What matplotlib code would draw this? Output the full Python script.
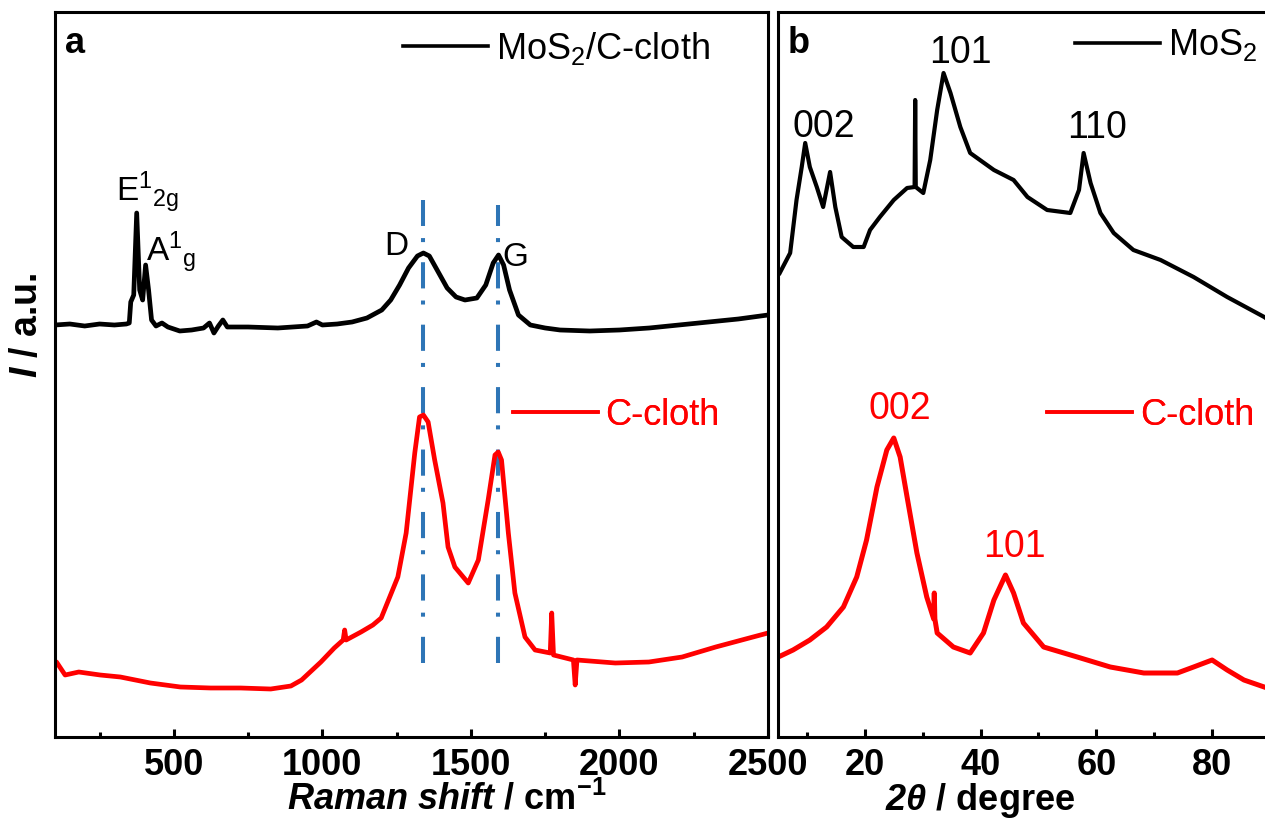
import numpy as np
import matplotlib.pyplot as plt
from matplotlib.lines import Line2D

plt.rcParams['font.family'] = ['Liberation Sans', 'DejaVu Sans']
plt.rcParams['mathtext.fontset'] = 'custom'
plt.rcParams['mathtext.rm'] = 'Liberation Sans'
plt.rcParams['mathtext.it'] = 'Liberation Sans:italic'
plt.rcParams['mathtext.bf'] = 'Liberation Sans:bold'
plt.rcParams['mathtext.bfit'] = 'Liberation Sans:italic:bold'
plt.rcParams['mathtext.default'] = 'regular'

# ---- panel a: Raman (intensity in a.u., stacked) ----
raman_x_mos2 = [100, 150, 200, 250, 300, 340, 350, 355, 365, 375, 385, 395, 405, 415, 425,
                440, 460, 480, 520, 560, 600, 620, 635, 650, 665, 680, 750, 850, 950, 980,
                1000, 1050, 1100, 1150, 1200, 1230, 1260, 1290, 1320, 1340, 1360, 1390, 1420,
                1450, 1480, 1520, 1550, 1575, 1593, 1610, 1630, 1660, 1700, 1750, 1800, 1900,
                2000, 2100, 2200, 2300, 2400, 2500]
raman_y_mos2 = [412, 413, 411, 413, 412, 413, 414, 435, 442, 524, 447, 437, 472, 447, 417,
                411, 414, 410, 406, 407, 409, 414, 404, 411, 417, 410, 410, 409, 411, 415,
                412, 413, 415, 419, 427, 437, 452, 469, 481, 484, 481, 465, 449,
                440, 437, 439, 452, 474, 482, 472, 447, 422, 412, 409, 407, 406,
                407, 409, 412, 415, 418, 422]

raman_x_cc = [100, 105, 134, 180, 252, 320, 421, 522, 624, 725, 826, 894, 930, 995, 1040,
              1070, 1075, 1080, 1130, 1170, 1198, 1254, 1282, 1311, 1327, 1340, 1356, 1378,
              1406, 1423, 1446, 1491, 1525, 1558, 1581, 1592, 1603, 1626, 1648, 1682, 1716,
              1767, 1772, 1778, 1845, 1851, 1857, 1986, 2099, 2211, 2324, 2437, 2500]
raman_y_cc = [72, 75, 62, 65, 62, 60, 54, 50, 49, 49, 48, 51, 57, 75, 89,
              97, 107, 97, 105, 112, 119, 160, 204, 284, 320, 322, 315, 277,
              234, 190, 170, 154, 177, 237, 282, 285, 277, 204, 144, 100, 87,
              84, 124, 82, 77, 52, 77, 74, 75, 80, 90, 99, 104]

d_band = 1340
g_band = 1592

# ---- panel b: XRD ----
xrd_x_mos2 = [5.3, 7.1, 8.2, 9.1, 9.7, 10.5, 11.7, 12.8, 14.0, 14.9, 16.0, 18.0, 19.8, 20.9,
              22.6, 25.0, 27.3, 28.6, 28.7, 28.8, 30.1, 31.3, 32.5, 33.6, 34.8, 36.5, 38.2,
              42.3, 45.7, 48.1, 51.5, 55.5, 57.0, 57.8, 59.0, 60.7, 63.0, 66.4, 71.1, 76.8,
              82.6, 89.0, 90.0]
xrd_y_mos2 = [464, 484, 537, 570, 594, 570, 550, 530, 565, 530, 500, 490, 490, 507,
              520, 537, 549, 550, 637, 550, 544, 577, 627, 664, 644, 610, 584,
              567, 557, 540, 527, 524, 547, 584, 554, 524, 504, 487, 477, 460,
              440, 420, 416]

xrd_x_cc = [5.05, 7.6, 10.5, 13.4, 16.3, 18.6, 20.3, 22.1, 23.8, 25.0, 26.1, 27.3, 29.0,
            30.7, 31.9, 32.0, 32.1, 32.5, 35.3, 38.2, 40.5, 42.3, 44.3, 45.7, 47.4, 50.9,
            56.7, 62.4, 68.2, 74.0, 76.8, 80.0, 82.6, 85.5, 89.0, 90.0]
xrd_y_cc = [80, 87, 97, 110, 130, 160, 197, 250, 287, 299, 280, 240, 184,
            140, 118, 144, 118, 104, 90, 84, 104, 137, 162, 144, 114, 90,
            80, 70, 64, 64, 70, 77, 67, 57, 50, 48]

fig = plt.figure(figsize=(12.65, 8.22), dpi=100)
ax1 = fig.add_axes([55 / 1265, 85 / 822, 713 / 1265, 725 / 822])
ax2 = fig.add_axes([778 / 1265, 85 / 822, 492 / 1265, 725 / 822])

blue = '#2E75B6'
ax1.vlines(d_band, 74, 537, colors=blue, lw=2.9, linestyles=(0, (6.5, 5.0, 1.0, 3.0)))
ax1.vlines(g_band, 74, 532, colors=blue, lw=2.9, linestyles=(0, (6.5, 5.0, 1.0, 3.0)))
ax1.plot(raman_x_mos2, raman_y_mos2, color='black', lw=3.4)
ax1.plot(raman_x_cc, raman_y_cc, color='red', lw=3.4)

ax2.plot(xrd_x_mos2, xrd_y_mos2, color='black', lw=3.0)
ax2.plot(xrd_x_cc, xrd_y_cc, color='red', lw=3.6)

ax1.set_xlim(100, 2500)
ax1.set_xticks([500, 1000, 1500, 2000, 2500])
ax1.set_xticks([250, 750, 1250, 1750, 2250], minor=True)
ax2.set_xlim(5, 90)
ax2.set_xticks([20, 40, 60, 80])
ax2.set_xticks([10, 30, 50, 70, 90], minor=True)

for ax in (ax1, ax2):
    ax.set_ylim(0, 725)
    ax.set_yticks([])
    for s in ax.spines.values():
        s.set_linewidth(2.2)
    ax.tick_params(axis='x', which='major', direction='in', length=6, width=2.2,
                   labelsize=26, pad=8)
    ax.tick_params(axis='x', which='minor', direction='in', length=3.5, width=2.2)
    for lab in ax.get_xticklabels():
        lab.set_fontweight('bold')

ax1.set_xlabel(r'$\mathbfit{Raman\ shift}$ / cm$^{-1}$', fontsize=26, fontweight='bold')
ax1.xaxis.set_label_coords(0.55, -0.061)
ax1.set_ylabel(r'$\mathbfit{I}$ / a.u.', fontsize=27, fontweight='bold')
ax1.yaxis.set_label_coords(-0.014, 0.568)
ax2.set_xlabel(r'$\mathbfit{2\theta}$ / degree', fontsize=26, fontweight='bold')
ax2.xaxis.set_label_coords(0.41, -0.061)

ax1.text(0.014, 0.957, 'a', transform=ax1.transAxes, fontsize=26, fontweight='bold',
         ha='left', va='center')
ax2.text(0.02, 0.957, 'b', transform=ax2.transAxes, fontsize=26, fontweight='bold',
         ha='left', va='center')

# peak labels
ax1.text(305, 545, r'E$^{1}{}_{2g}$', fontsize=24, ha='left', va='center')
ax1.text(405, 485, r'A$^{1}{}_{g}$', fontsize=24, ha='left', va='center')
ax1.text(1250, 491, 'D', fontsize=24, ha='center', va='center')
ax1.text(1650, 480, 'G', fontsize=24, ha='center', va='center')

ax2.text(13.0, 610, '002', fontsize=27, ha='center', va='center')
ax2.text(36.5, 684, '101', fontsize=27, ha='center', va='center')
ax2.text(60.2, 609, '110', fontsize=27, ha='center', va='center')
ax2.text(26.1, 328, '002', fontsize=27, ha='center', va='center', color='red')
ax2.text(45.8, 190, '101', fontsize=27, ha='center', va='center', color='red')


def tag(ax, color, label, x, y):
    h = Line2D([], [], color=color, lw=2.6)
    leg = ax.legend([h], [label], loc='center left', bbox_to_anchor=(x, y),
                    bbox_transform=ax.transAxes, frameon=False, fontsize=26,
                    handlelength=2.35, handletextpad=0.22, borderpad=0,
                    borderaxespad=0, labelcolor=color)
    ax.add_artist(leg)


tag(ax1, 'black', r'MoS$_2$/C-cloth', 0.488, 0.950)
tag(ax1, 'red', 'C-cloth', 0.642, 0.444)
tag(ax2, 'black', r'MoS$_2$', 0.604, 0.954)
tag(ax2, 'red', 'C-cloth', 0.547, 0.444)

fig.savefig('out.png', dpi=100)
